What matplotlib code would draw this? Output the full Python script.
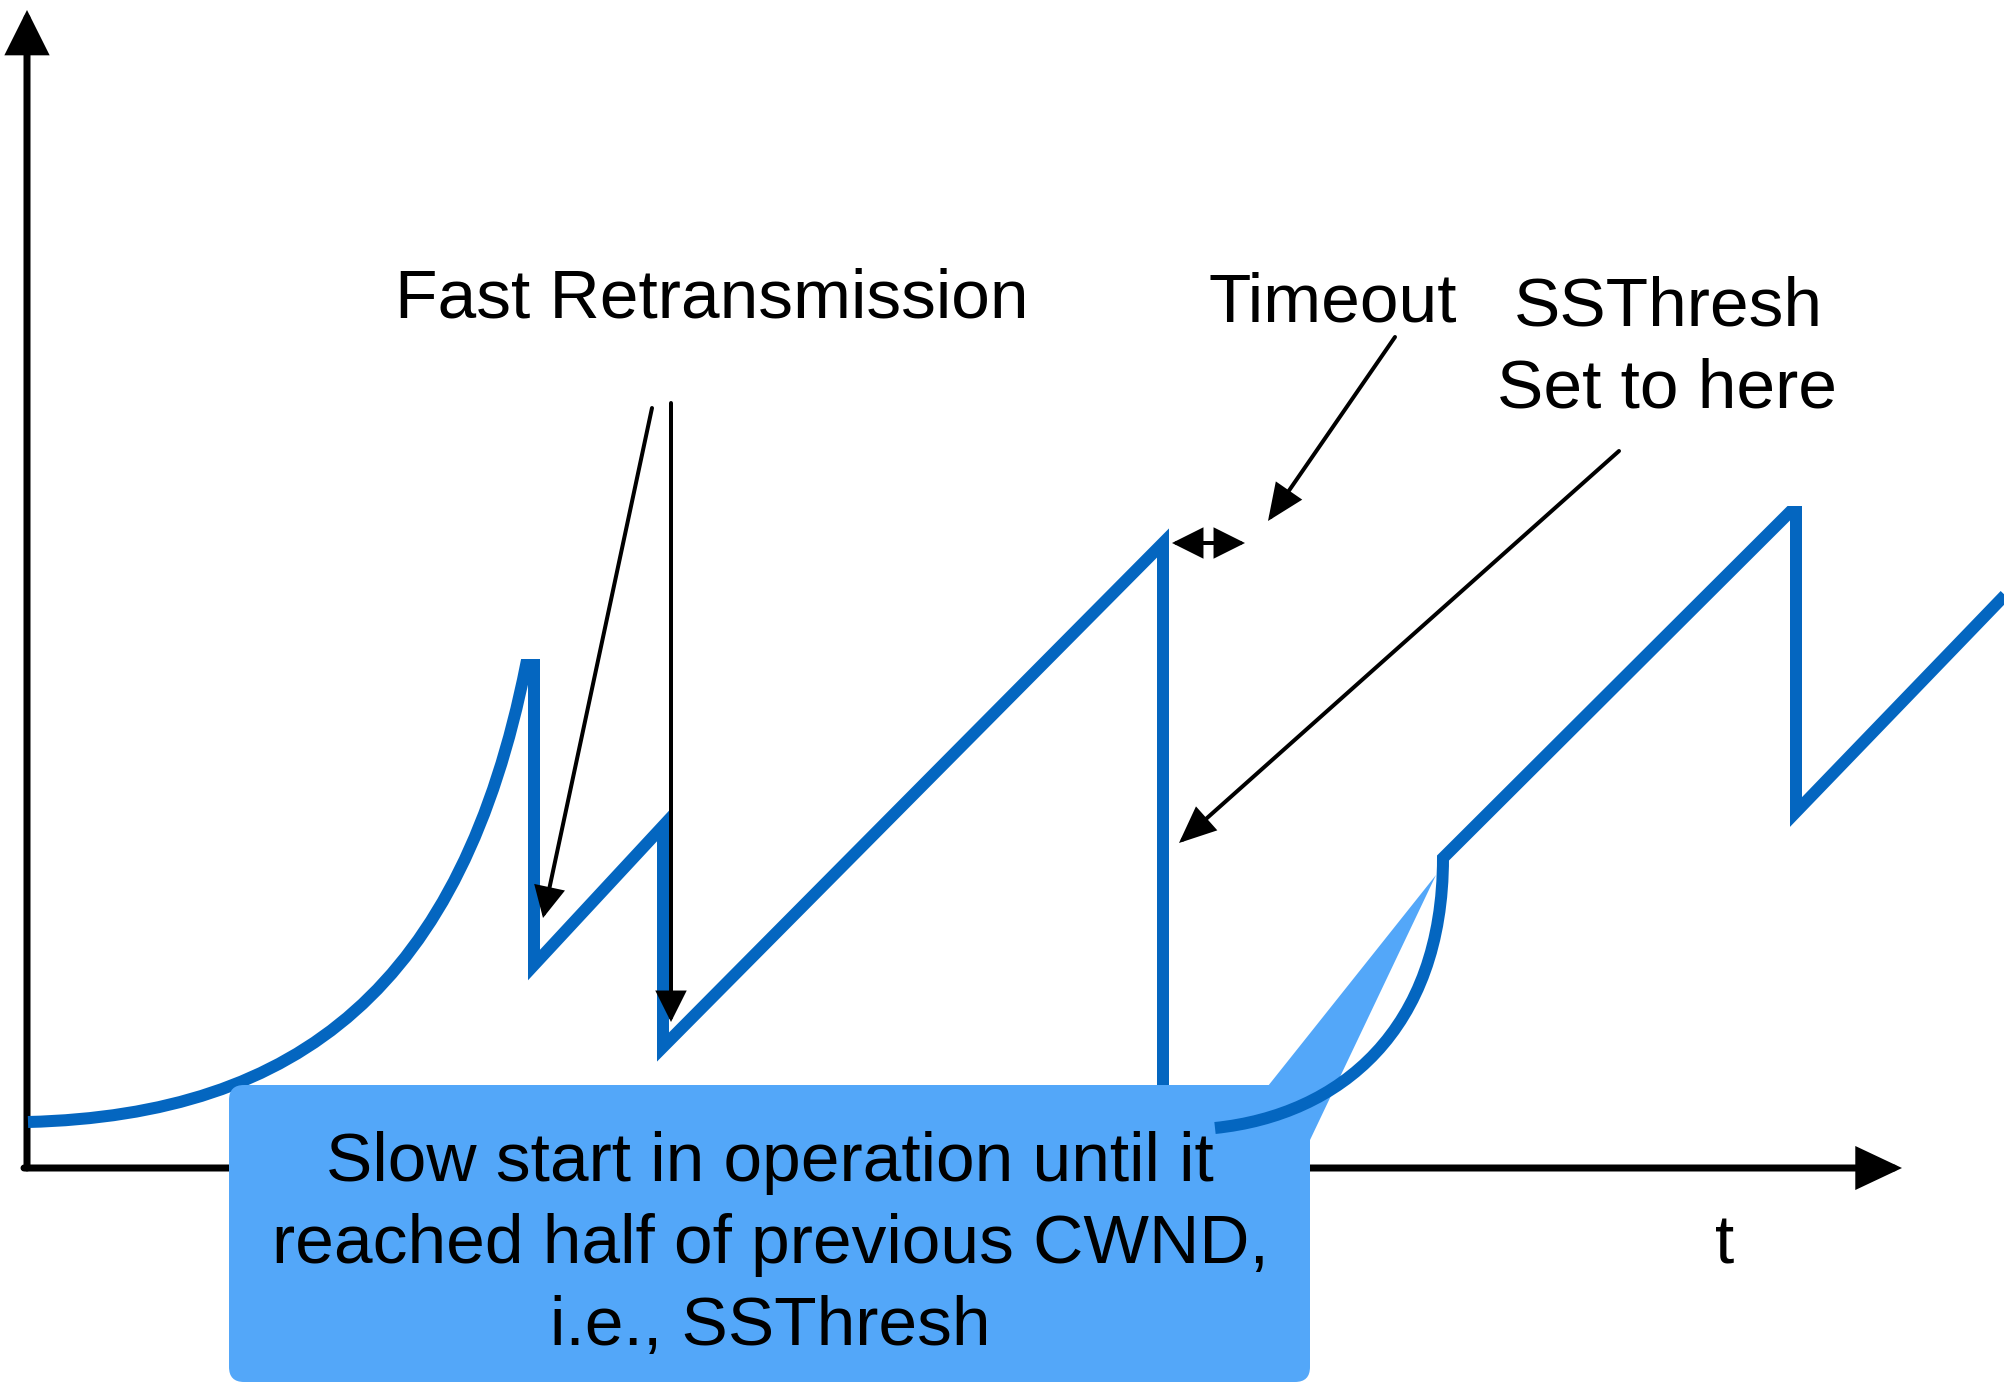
import matplotlib
matplotlib.use("Agg")
import matplotlib.pyplot as plt
from matplotlib.path import Path
from matplotlib.patches import PathPatch, FancyArrowPatch, FancyBboxPatch, Polygon, ArrowStyle

# everything below is in pixel units of the 2004x1384 canvas (y grows downward)

# first slow start (cubic bezier) followed by the fast-retransmit sawtooth
ss1_ctrl = [(28, 1122), (300, 1115), (462, 985), (526, 665)]
saw1_x = [534, 534, 663, 663, 1163, 1163]
saw1_y = [665, 965, 826, 1047, 543, 1086]

# slow start after the timeout (bezier) followed by congestion avoidance
ss2_ctrl = [(1215, 1128), (1340, 1115), (1443, 1030), (1443, 858)]
saw2_x = [1790, 1796, 1796, 2010]
saw2_y = [512, 512, 812, 590]

# annotation arrows: (start, end)
fast_rtx_arrows = [((652, 408), (543, 918)), ((671, 403), (671, 1022))]
timeout_arrow = ((1395, 337), (1268, 521))
ssthresh_arrow = ((1619, 451), (1179, 843))
timeout_span = ((1172, 543), (1245, 543))

labels = [
    ("Fast Retransmission", 712, 318),
    ("Timeout", 1333, 322),
    ("SSThresh", 1668, 325),
    ("Set to here", 1667, 407),
    ("t", 1725, 1263),
]
box_lines = ["Slow start in operation until it",
             "reached half of previous CWND,",
             "i.e., SSThresh"]
box_baselines = [1181, 1263, 1345]

blue = "#0466C0"
light_blue = "#53A7F9"
px = 72 / 100  # pixels -> points at dpi 100

fig = plt.figure(figsize=(20.04, 13.84), dpi=100)
ax = fig.add_axes([0, 0, 1, 1])
ax.set_xlim(0, 2004)
ax.set_ylim(1384, 0)
ax.axis("off")
plt.rcParams["font.family"] = ["Liberation Sans", "DejaVu Sans"]


def trace(ctrl, xs, ys):
    verts = list(ctrl) + list(zip(xs, ys))
    codes = [Path.MOVETO, Path.CURVE4, Path.CURVE4, Path.CURVE4] + [Path.LINETO] * len(xs)
    return PathPatch(Path(verts, codes), fill=False, edgecolor=blue, lw=12 * px,
                     joinstyle="miter", capstyle="butt")


def arrow(p0, p1, style="-|>", lw=4, hl=25, hw=12.5, z=5):
    st = ArrowStyle(style, head_length=hl * px, head_width=hw * px)
    a = FancyArrowPatch(p0, p1, arrowstyle=st, mutation_scale=1, lw=lw * px,
                        color="black", shrinkA=0, shrinkB=0, zorder=z,
                        joinstyle="miter")
    ax.add_patch(a)


# axes
arrow((27, 1168), (27, 10), lw=7, hl=34, hw=17, z=2)
arrow((24, 1168), (1902, 1168), lw=7, hl=35, hw=16.5, z=2)

# main cwnd trace
p1 = trace(ss1_ctrl, saw1_x, saw1_y)
p1.set_zorder(3)
ax.add_patch(p1)
p2 = trace(ss2_ctrl, saw2_x, saw2_y)
p2.set_zorder(7)

# annotation arrows
for s, e in fast_rtx_arrows:
    arrow(s, e)
arrow(*timeout_arrow, hl=30, hw=13)
arrow(*ssthresh_arrow, hl=30, hw=13)
arrow(*timeout_span, style="<|-|>", hl=25, hw=12.5)

# callout box with tail (tail overlaps into the box to avoid a seam)
box = FancyBboxPatch((229, 1085), 1310 - 229, 1382 - 1085,
                     boxstyle="round,pad=0,rounding_size=15",
                     facecolor=light_blue, edgecolor="none", zorder=6)
ax.add_patch(box)
tail = Polygon([(1268, 1086), (1436, 875), (1310, 1140), (1310, 1160), (1250, 1160), (1250, 1100)],
               closed=True, facecolor=light_blue, edgecolor="none", zorder=6)
ax.add_patch(tail)
ax.add_patch(p2)

for txt, x, y in labels:
    ax.text(x, y, txt, fontsize=50, ha="center", va="baseline", color="black", zorder=8)
for txt, y in zip(box_lines, box_baselines):
    ax.text(770, y, txt, fontsize=50, ha="center", va="baseline", color="black", zorder=8)

fig.savefig("out.png", dpi=100)
